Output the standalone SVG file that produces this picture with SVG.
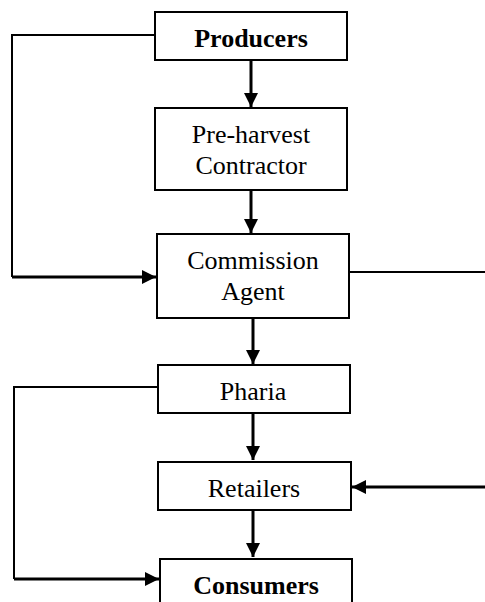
<svg xmlns="http://www.w3.org/2000/svg" width="485" height="602" viewBox="0 0 485 602">
<style>
.box{fill:#fff;stroke:#000;stroke-width:2}
.t{font-family:"Liberation Serif","Times New Roman",serif;font-size:26px;text-anchor:middle;fill:#000}
.b{font-weight:bold}
.ln{fill:none;stroke:#000;stroke-width:2}
.ar{fill:none;stroke:#000;stroke-width:3}
</style>
<defs>
<marker id="ah" viewBox="0 0 10 10" refX="10" refY="5" markerWidth="14" markerHeight="14" markerUnits="userSpaceOnUse" orient="auto">
<path d="M0,0 L10,5 L0,10 Z" fill="#000"/>
</marker>
</defs>
<g id="connectors">
<path class="ar" d="M251,60 V107" marker-end="url(#ah)"/>
<path class="ar" d="M251,190 V233" marker-end="url(#ah)"/>
<path class="ar" d="M253,318 V364" marker-end="url(#ah)"/>
<path class="ar" d="M253,413 V460" marker-end="url(#ah)"/>
<path class="ar" d="M253,510 V557" marker-end="url(#ah)"/>
<path class="ln" d="M155,35 H12 V277"/>
<path class="ar" d="M12,277 H156" marker-end="url(#ah)"/>
<path class="ln" d="M349,272 H485"/>
<path class="ar" d="M485,487 H352" marker-end="url(#ah)"/>
<path class="ln" d="M158,387 H14 V579"/>
<path class="ar" d="M14,579 H159" marker-end="url(#ah)"/>
</g>
<g id="producers"><rect class="box" x="155" y="12" width="192" height="48"/><text class="t b" x="251" y="47">Producers</text></g>
<g id="preharvest"><rect class="box" x="155" y="108" width="192" height="82"/><text class="t" x="251" y="143">Pre-harvest</text><text class="t" x="251" y="174">Contractor</text></g>
<g id="commission"><rect class="box" x="157" y="234" width="192" height="84"/><text class="t" x="253" y="269">Commission</text><text class="t" x="253" y="300">Agent</text></g>
<g id="pharia"><rect class="box" x="158" y="365" width="192" height="48"/><text class="t" x="253" y="400">Pharia</text></g>
<g id="retailers"><rect class="box" x="158" y="462" width="193" height="48"/><text class="t" x="254" y="497">Retailers</text></g>
<g id="consumers"><rect class="box" x="160" y="559" width="192" height="60"/><text class="t b" x="256" y="594">Consumers</text></g>
</svg>
